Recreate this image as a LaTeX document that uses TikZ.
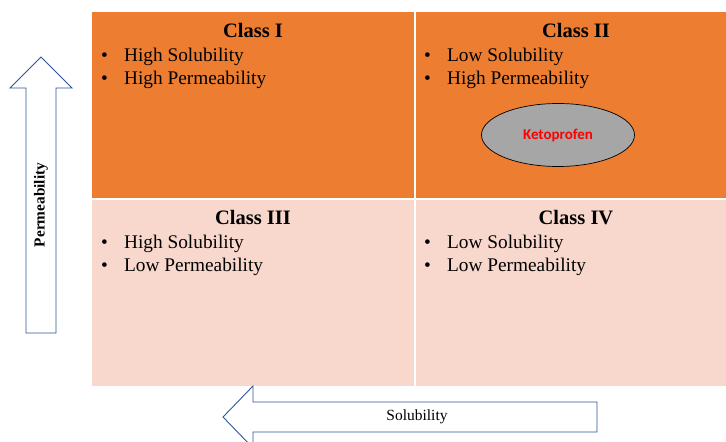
\documentclass[tikz,border=0pt]{standalone}
\usepackage{fontspec}
\setmainfont{Liberation Serif}
\newfontfamily\calibri{Carlito}
\usetikzlibrary{shapes.geometric}

\definecolor{classhigh}{HTML}{ED7D31}
\definecolor{classlow}{HTML}{F8D7CD}
\definecolor{arrowblue}{HTML}{2F5597}
\definecolor{drugfill}{HTML}{A6A6A6}

\begin{document}
\begin{tikzpicture}[x=1pt, y=-1pt,
  title/.style={font=\fontsize{20.5}{24}\selectfont\bfseries, anchor=base, inner sep=0},
  item/.style={font=\fontsize{19.3}{23}\selectfont, anchor=base west, inner sep=0},
  blockarrow/.style={draw=arrowblue, line width=0.9pt, fill=white}]
  \useasboundingbox (0,0) rectangle (726,442);
  \clip (0,0) rectangle (726,442);

  % Add cells
  \fill[classhigh] (92,12) rectangle (740,199);
  \fill[classlow] (92,199) rectangle (740,386);
  \draw[white, line width=2pt] (415,12) -- (415,386);
  \draw[white, line width=2pt] (92,199) -- (740,199);

  % Class I
  \node[title] (c1) at (253,37) {Class I};
  \node[item] (c1sol) at (101,61) {\makebox[23pt][l]{\textbullet}High Solubility};
  \node[item] (c1perm) at (101,84) {\makebox[23pt][l]{\textbullet}High Permeability};

  % Class II
  \node[title] (c2) at (576,37) {Class II};
  \node[item] (c2sol) at (424,61) {\makebox[23pt][l]{\textbullet}Low Solubility};
  \node[item] (c2perm) at (424,84) {\makebox[23pt][l]{\textbullet}High Permeability};

  \node[ellipse, draw=black, line width=0.7pt, fill=drugfill, minimum width=153pt, minimum height=63pt,
        text=red, font=\calibri\fontsize{15}{17}\selectfont\bfseries] (drug) at (558,135) {Ketoprofen};

  % Class III
  \node[title] (c3) at (253,224) {Class III};
  \node[item] (c3sol) at (101,248) {\makebox[23pt][l]{\textbullet}High Solubility};
  \node[item] (c3perm) at (101,271) {\makebox[23pt][l]{\textbullet}Low Permeability};

  % Class IV
  \node[title] (c4) at (576,224) {Class IV};
  \node[item] (c4sol) at (424,248) {\makebox[23pt][l]{\textbullet}Low Solubility};
  \node[item] (c4perm) at (424,271) {\makebox[23pt][l]{\textbullet}Low Permeability};

  % Add arrows
  \draw[blockarrow] (26,333) -- (26,88) -- (10,88) -- (41,57) -- (72,88) -- (56,88) -- (56,333) -- cycle;
  \node[rotate=90, font=\fontsize{15.3}{18}\selectfont\bfseries] (perm) at (41,205) {Permeability};

  \draw[blockarrow] (597,402) -- (253,402) -- (253,386) -- (223,417) -- (253,448) -- (253,432) -- (597,432) -- cycle;
  \node[font=\fontsize{15.5}{18}\selectfont] (sol) at (417,417) {Solubility};

\end{tikzpicture}
\end{document}
